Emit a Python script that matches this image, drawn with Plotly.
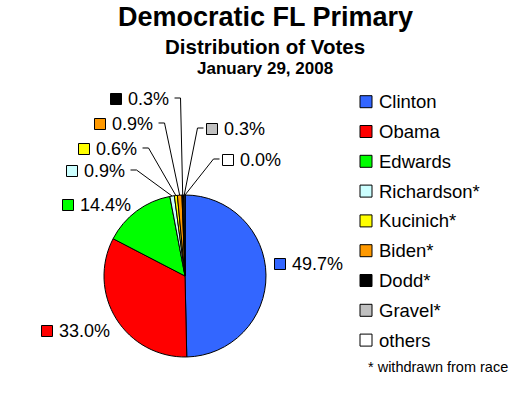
import math
import plotly.graph_objects as go

# ---------------- data ----------------
candidates = ["Clinton", "Obama", "Edwards", "Richardson*", "Kucinich*",
              "Biden*", "Dodd*", "Gravel*", "others"]
shares = [49.7, 33.0, 14.4, 0.9, 0.6, 0.9, 0.3, 0.3, 0.0]
colors = ["#3366FF", "#FF0000", "#00FF00", "#CCFFFF", "#FFFF00",
          "#FF9900", "#000000", "#C0C0C0", "#FFFFFF"]
title_lines = ["Democratic FL Primary", "Distribution of Votes", "January 29, 2008"]
footnote = "* withdrawn from race"

# ---------------- layout settings ----------------
W, H = 530, 393
CX, CY, R = 185, 276, 81          # pie centre / radius in px
# square centre of every data label (px) and which side the text is on
label_xy = [(280, 264), (47, 331), (68, 205), (72, 171), (84, 149),
            (100, 124), (116, 99), (212, 129), (228, 160)]
label_side = ["R", "R", "R", "R", "R", "R", "R", "L", "L"]
has_leader = [False, False, False, True, True, True, True, True, True]
LBL_FS = 18
LEG_FS = 18.5
SQ = 11
LEG_X0, LEG_Y0, LEG_DY = 360, 101.7, 29.8
FONT = "Liberation Sans, Arial, sans-serif"


def px(x):
    return x / W


def py(y):
    return 1 - y / H


ARIAL = {'0': .556, '1': .556, '2': .556, '3': .556, '4': .556, '5': .556,
         '6': .556, '7': .556, '8': .556, '9': .556, '.': .278, '%': .889}


def tw(s, fs):
    return sum(ARIAL.get(c, .556) for c in s) * fs


fig = go.Figure(go.Pie(
    labels=candidates, values=shares, sort=False, direction="clockwise",
    rotation=0, textinfo="none", showlegend=False,
    marker=dict(colors=colors, line=dict(color="black", width=1)),
    hovertemplate="%{label}: %{value:.1f}%<extra></extra>",
    domain=dict(x=[px(CX - R), px(CX + R)], y=[py(CY + R), py(CY - R)]),
))

shapes = []
annotations = []

# titles
for txt, yc, fs in zip(title_lines, [17, 46, 69], [27, 20.5, 17]):
    annotations.append(dict(text="<b>%s</b>" % txt, x=px(265), y=py(yc),
                            xref="paper", yref="paper", showarrow=False,
                            xanchor="center", yanchor="middle",
                            font=dict(family=FONT, size=fs, color="black")))

# data labels with leader lines
total = sum(shares)
cum = 0.0
for i, (v, col) in enumerate(zip(shares, colors)):
    frac = (cum + v / 2) / total
    cum += v
    th = 2 * math.pi * frac
    ex, ey = CX + R * math.sin(th), CY - R * math.cos(th)
    lx, ly = label_xy[i]
    txt = "%.1f%%" % v
    shapes.append(dict(type="rect", xref="paper", yref="paper",
                       x0=px(lx - SQ / 2), x1=px(lx + SQ / 2),
                       y0=py(ly + SQ / 2), y1=py(ly - SQ / 2),
                       fillcolor=col, line=dict(color="black", width=1)))
    annotations.append(dict(text=txt, x=px(lx + SQ / 2 + 4), y=py(ly),
                            xref="paper", yref="paper", showarrow=False,
                            xanchor="left", yanchor="middle",
                            font=dict(family=FONT, size=LBL_FS, color="black")))
    if has_leader[i]:
        if label_side[i] == "R":
            sx = lx + SQ / 2 + 6 + tw(txt, LBL_FS) + 6
            kx = sx + 6
        else:
            sx = lx - SQ / 2 - 3
            kx = sx - 6
        yy = ly - 1
        path = "M %f %f L %f %f L %f %f" % (px(sx), py(yy), px(kx), py(yy),
                                             px(ex), py(ey))
        shapes.append(dict(type="path", xref="paper", yref="paper", path=path,
                           line=dict(color="black", width=1)))

# legend (built from the category list)
for i, (name, col) in enumerate(zip(candidates, colors)):
    yc = LEG_Y0 + i * LEG_DY
    shapes.append(dict(type="rect", xref="paper", yref="paper",
                       x0=px(LEG_X0), x1=px(LEG_X0 + 12),
                       y0=py(yc + 6), y1=py(yc - 6),
                       fillcolor=col, line=dict(color="black", width=1)))
    annotations.append(dict(text=name, x=px(LEG_X0 + 17), y=py(yc),
                            xref="paper", yref="paper", showarrow=False,
                            xanchor="left", yanchor="middle",
                            font=dict(family=FONT, size=LEG_FS, color="black")))

annotations.append(dict(text=footnote, x=px(366), y=py(367),
                        xref="paper", yref="paper", showarrow=False,
                        xanchor="left", yanchor="middle",
                        font=dict(family=FONT, size=14.5, color="black")))

fig.update_layout(width=W, height=H, margin=dict(l=0, r=0, t=0, b=0),
                  paper_bgcolor="white", plot_bgcolor="white",
                  shapes=shapes, annotations=annotations, showlegend=False)

fig.write_html("out.html", config={"displayModeBar": False},
               post_script="document.body.style.margin='0';"
                           "document.body.style.padding='0';")
